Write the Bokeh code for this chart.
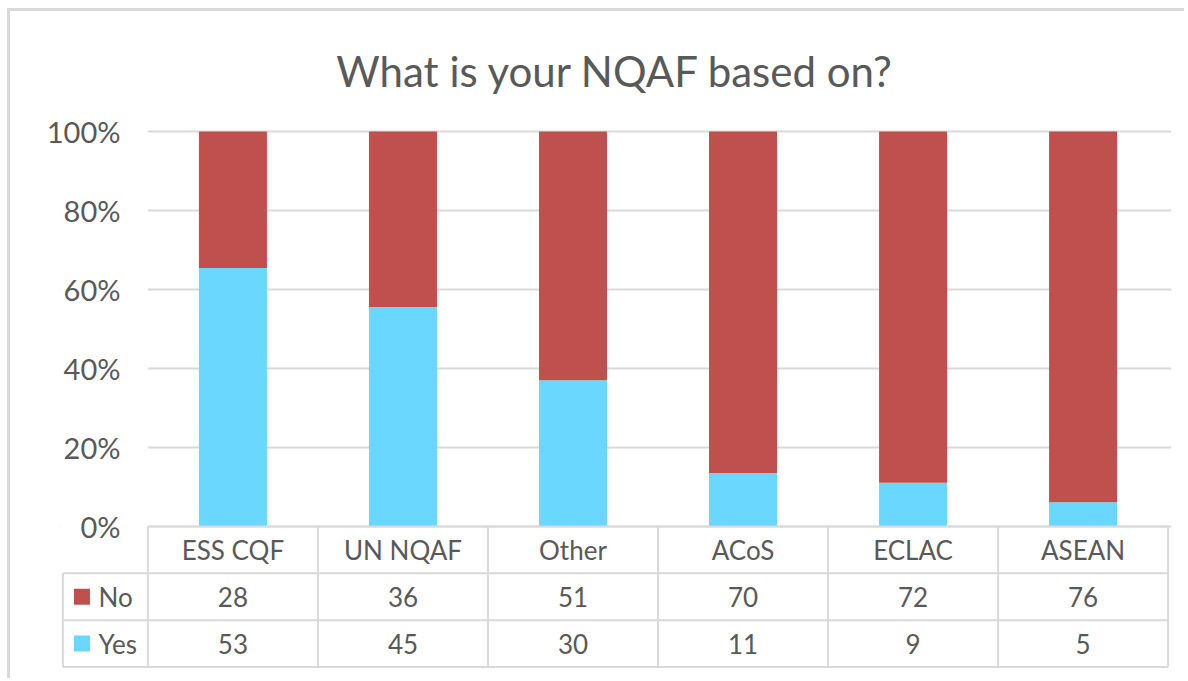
from bokeh.plotting import figure
from bokeh.models import Range1d, FixedTicker, NumeralTickFormatter, BoxAnnotation, ColumnDataSource
from bokeh.core.properties import value
from bokeh.embed import file_html
from bokeh.resources import INLINE

# ---- data ----
categories = ["ESS CQF", "UN NQAF", "Other", "ACoS", "ECLAC", "ASEAN"]
no_counts = [28, 36, 51, 70, 72, 76]
yes_counts = [53, 45, 30, 11, 9, 5]
series_names = ["No", "Yes"]
tick_values = [0, 0.2, 0.4, 0.6, 0.8, 1.0]

# ---- style ----
YES_COLOR = "#69D7FF"
NO_COLOR = "#C0504D"
TEXT = "#595959"
LINE = "#D9D9D9"
FONT = "Lato"

n = len(categories)
xs = [i + 0.5 for i in range(n)]
totals = [a + b for a, b in zip(no_counts, yes_counts)]
yes_share = [y / t for y, t in zip(yes_counts, totals)]
no_share = [c / t for c, t in zip(no_counts, totals)]

p = figure(width=1177, height=670,
           x_range=Range1d(-0.52, n + 0.02), y_range=Range1d(-0.367, 1.0101),
           output_backend="svg", toolbar_location=None,
           min_border_left=49, min_border_right=16, min_border_top=116, min_border_bottom=10,
           title="What is your NQAF based on?")
p.styles = {"border-top": "3px solid #D9D9D9", "border-left": "3px solid #D9D9D9",
            "margin-left": "7px", "margin-top": "8px"}
p.outline_line_color = None
p.background_fill_color = "white"
p.border_fill_color = "white"

p.title.text_font = FONT
p.title.text_font_size = "42px"
p.title.text_font_style = "normal"
p.title.text_color = TEXT
p.title.align = "center"
p.title.standoff = 63
p.title.offset = -5

# grid
p.xgrid.visible = False
p.ygrid.ticker = FixedTicker(ticks=tick_values)
p.ygrid.grid_line_color = LINE
p.ygrid.grid_line_width = 2

# axes
p.xaxis.visible = False
p.yaxis.ticker = FixedTicker(ticks=tick_values)
p.yaxis.formatter = NumeralTickFormatter(format="0%")
p.yaxis.axis_line_color = None
p.yaxis.major_tick_line_color = None
p.yaxis.minor_tick_line_color = None
p.yaxis.major_tick_out = 0
p.yaxis.major_label_standoff = -61
p.yaxis.major_label_text_font = FONT
p.yaxis.major_label_text_font_size = "29px"
p.yaxis.major_label_text_color = TEXT

# hide grid lines over the legend column
p.add_layout(BoxAnnotation(right=0, bottom=-0.01, fill_color="white", fill_alpha=1,
                           line_alpha=0, level="underlay"))

# bars
src = ColumnDataSource(dict(x=xs, Yes=yes_share, No=no_share))
p.vbar_stack(["Yes", "No"], x="x", width=0.4, source=src,
             fill_color=[YES_COLOR, NO_COLOR], line_alpha=0)

# data table
h = 0.1185
row_y = [0, -h, -2 * h, -3 * h]
hx0 = [0] + [-0.5] * 3
hx1 = [n] * 4
p.segment(x0=hx0, x1=hx1, y0=row_y, y1=row_y, line_color=LINE, line_width=2)
vx = list(range(n + 1))
p.segment(x0=vx, x1=vx, y0=[0] * len(vx), y1=[-3 * h] * len(vx), line_color=LINE, line_width=2)
p.segment(x0=[-0.5], x1=[-0.5], y0=[-h], y1=[-3 * h], line_color=LINE, line_width=2)

txt = dict(text_font=value(FONT), text_font_size=value("26px"), text_color=TEXT,
           text_align="center", text_baseline="middle")
p.text(x=xs, y=[-0.5 * h] * n, text=categories, **txt)
p.text(x=xs, y=[-1.5 * h] * n, text=[str(v) for v in no_counts], **txt)
p.text(x=xs, y=[-2.5 * h] * n, text=[str(v) for v in yes_counts], **txt)

# legend keys inside the table
p.scatter(x=[-0.388] * 2, y=[-1.5 * h, -2.5 * h], marker="square", size=16,
          fill_color=[NO_COLOR, YES_COLOR], line_alpha=0)
p.text(x=[-0.29] * 2, y=[-1.5 * h, -2.5 * h], text=series_names,
       text_font=value(FONT), text_font_size=value("26px"), text_color=TEXT,
       text_align="left", text_baseline="middle")

open("out.html", "w").write(file_html(p, INLINE))
